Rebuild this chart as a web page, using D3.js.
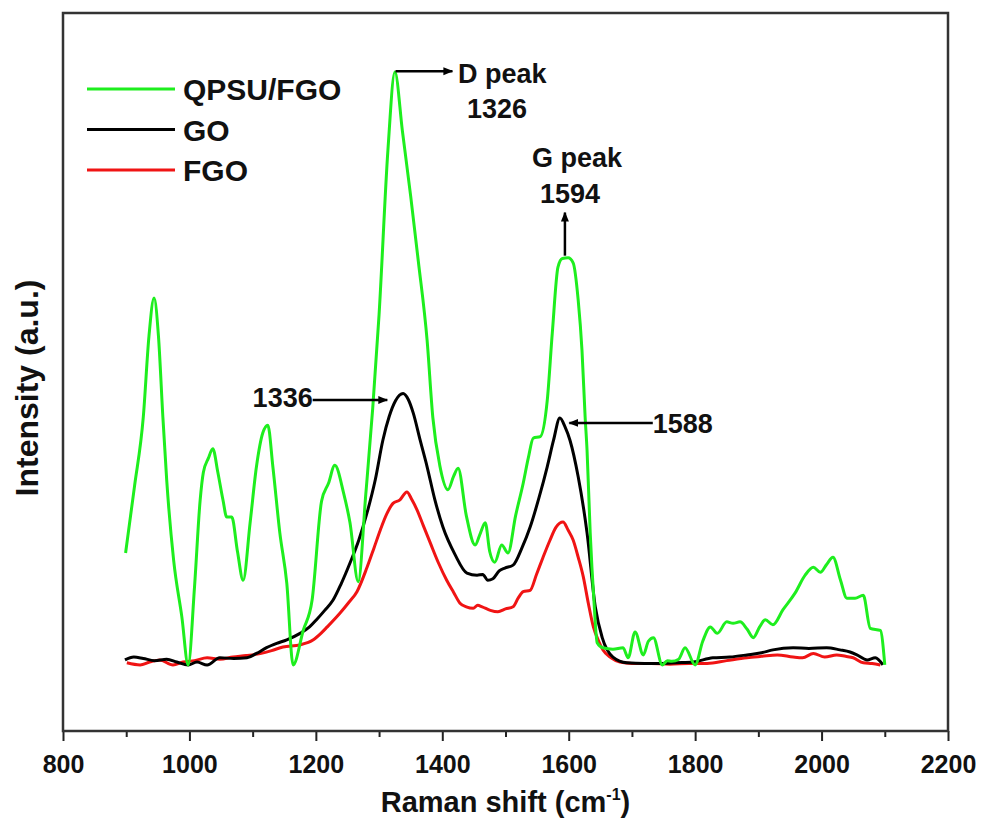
<!DOCTYPE html>
<html>
<head>
<meta charset="UTF-8">
<title>Raman spectra</title>
<script src="https://cdn.jsdelivr.net/npm/d3@7"></script>
<style>
  body { margin: 0; background: #fff; }
  svg text { font-family: Arial, 'Liberation Sans', Helvetica, sans-serif; font-weight: bold; fill: #111; }
</style>
</head>
<body>
<div id="chart"></div>
<script>
// ---- data (Raman shift cm-1, intensity a.u.) ----
var qpsuFgo = [
  [899,24.8],[913,34],[927,43.7],[936,55],[944,60.3],[951,55],[958,43.7],[964,35],[975,23.8],[988,15.9],[998,9.2],
  [1008,20],[1017,32.2],[1022,36],[1030,38],[1037,39.3],[1045,36],[1053,32.2],[1059,29.8],[1067,29.8],[1076,25],[1085,21],
  [1096,29],[1106,36.8],[1116,41.5],[1124,42.6],[1132,36.8],[1143,27.6],[1154,20.6],[1164,9.2],
  [1180,14],[1194,18.2],[1209,32],[1220,34.5],[1230,37],[1244,33.1],[1254,29],[1267,20.8],
  [1279,33],[1290,45],[1300,58],[1314,80.9],[1325,91.8],[1337,83.5],[1350,74.5],
  [1362,65.5],[1376,54.4],[1385,43.7],[1396,37],[1409,33.6],[1418,35.5],[1425,36.6],[1438,30],[1452,25.9],[1460,27.5],[1468,29],
  [1475,25],[1483,23.5],[1494,25.9],[1504,24.8],[1516,30],[1528,34.5],[1536,38],[1544,40.8],[1555,41],[1566,46],
  [1574,55.4],[1583,64.6],[1590,65.8],[1599,65.9],[1607,65.2],[1615,60],[1621,53],[1626,43.7],[1629,39.1],[1634,27.6],
  [1640,18],[1645,12.3],[1654,11.6],[1670,11.4],[1686,11.6],[1694,10.2],[1705,13.8],[1718,10.6],[1726,12.5],[1734,13],
  [1748,9.2],[1756,9.8],[1763,9.7],[1774,10],[1784,11.6],[1800,9.2],[1812,12.5],[1824,14.5],[1835,13.6],[1850,15.2],
  [1860,15],[1871,15.2],[1882,14.2],[1892,13],[1902,14.5],[1911,15.5],[1923,14.8],[1939,16.9],[1958,19.2],[1974,21.7],
  [1987,22.8],[1998,22.1],[2008,23.2],[2018,24.2],[2030,21],[2040,18.5],[2053,18.5],[2066,18.9],[2077,14.3],[2093,14],[2100,9.2]
];
var go = [
  [898,9.9],[912,10.3],[927,10.1],[945,9.8],[964,10],[980,9.6],[998,9.2],[1012,9.6],[1028,9.2],[1048,10.2],[1070,10.1],
  [1091,10.2],[1106,10.8],[1122,11.6],[1138,12.2],[1154,12.7],[1175,13.6],[1190,14.5],[1201,15.5],[1214,16.8],[1227,18.2],
  [1240,20.5],[1254,23.4],[1268,26.6],[1281,30.4],[1294,35],[1306,40.5],[1316,43.8],[1326,46],[1338,47],[1346,46.2],
  [1354,44.3],[1365,40.5],[1376,36.8],[1388,32.3],[1401,28.4],[1420,24.6],[1439,22],[1455,21.7],[1464,21.8],[1472,21],
  [1480,21.2],[1490,22.3],[1499,22.7],[1512,23.1],[1526,25.5],[1539,28.4],[1553,32.5],[1566,36.8],[1576,40.5],[1586,43.6],
  [1594,42.4],[1602,40.5],[1615,35.4],[1629,27.6],[1642,17.3],[1653,13],[1670,10.3],[1692,9.5],[1720,9.4],[1744,9.4],
  [1770,9.5],[1797,9.6],[1828,10.2],[1855,10.3],[1882,10.6],[1905,10.9],[1923,11.3],[1955,11.6],[1980,11.5],[2008,11.6],
  [2029,11.3],[2045,11],[2056,10.6],[2072,9.9],[2085,10.2],[2097,9.2]
];
var fgo = [
  [901,9.5],[922,9.2],[937,9.6],[953,9.9],[974,9.2],[990,9.6],[1008,9.8],[1028,10.2],[1048,10],[1069,10.3],[1090,10.5],
  [1112,10.8],[1130,11.2],[1148,11.7],[1175,12],[1196,12.7],[1208,13.6],[1218,14.5],[1238,16.4],[1252,17.9],[1265,19.4],
  [1281,22.8],[1292,25.5],[1302,28],[1312,30.2],[1322,31.7],[1333,32.2],[1344,33.3],[1352,32.2],[1360,30.8],[1370,28.6],
  [1381,26.2],[1394,23.4],[1407,21],[1418,19.3],[1428,17.8],[1438,17.3],[1449,17.1],[1456,17.5],[1463,17.3],[1476,16.8],
  [1488,16.6],[1500,17],[1512,17.3],[1520,18.5],[1528,19.4],[1539,19.6],[1549,21.8],[1559,24.1],[1570,26.5],[1580,28.4],
  [1591,29.1],[1599,28],[1607,26.6],[1615,24.2],[1623,21.5],[1631,17.8],[1639,14.5],[1647,12.6],[1654,11.3],[1667,10.2],
  [1681,9.6],[1700,9.4],[1730,9.4],[1760,9.3],[1790,9.4],[1819,9.4],[1850,9.8],[1882,10.2],[1905,10.4],[1930,10.6],
  [1955,10.3],[1970,10.2],[1987,10.8],[2005,10.3],[2024,10.6],[2038,10.4],[2050,10.2],[2066,9.5],[2080,9.4],[2093,9.2]
];

var seriesNames = ["QPSU/FGO", "GO", "FGO"];
var seriesColors = ["#1eee1e", "#000000", "#f01414"];
var majorTicks = [800, 1000, 1200, 1400, 1600, 1800, 2000, 2200];
var minorTicks = [900, 1100, 1300, 1500, 1700, 1900, 2100];

// ---- layout ----
var W = 981, H = 823;
var margin = {top: 13, right: 33, bottom: 92, left: 63};
var iw = W - margin.left - margin.right;
var ih = H - margin.top - margin.bottom;

var svg = d3.select("#chart").append("svg")
  .attr("width", W).attr("height", H);
var g = svg.append("g").attr("transform", "translate(" + margin.left + "," + margin.top + ")");

var x = d3.scaleLinear().domain([800, 2200]).range([0, iw]);
var y = d3.scaleLinear().domain([0, 100]).range([ih, 0]);

// axes
var xMajor = g.append("g").attr("transform", "translate(0," + ih + ")")
  .call(d3.axisBottom(x).tickValues(majorTicks).tickSize(10).tickPadding(14).tickFormat(d3.format("d")));
var xMinor = g.append("g").attr("transform", "translate(0," + ih + ")")
  .call(d3.axisBottom(x).tickValues(minorTicks).tickSize(6).tickFormat(""));
[xMajor, xMinor].forEach(function(a) {
  a.select(".domain").remove();
  a.selectAll(".tick line").attr("stroke", "#222").attr("stroke-width", 2);
});
xMajor.selectAll(".tick text").style("font-size", "25px").attr("fill", "#111");

// frame
g.append("rect").attr("x", 0).attr("y", 0).attr("width", iw).attr("height", ih)
  .attr("fill", "none").attr("stroke", "#333").attr("stroke-width", 2.5);

// curves
var line = d3.line().x(function(d) { return x(d[0]); }).y(function(d) { return y(d[1]); })
  .curve(d3.curveMonotoneX);
var drawOrder = [[fgo, 2], [go, 1], [qpsuFgo, 0]];
drawOrder.forEach(function(s) {
  g.append("path").datum(s[0]).attr("d", line)
    .attr("fill", "none").attr("stroke", seriesColors[s[1]])
    .attr("stroke-width", 3).attr("stroke-linejoin", "round");
});

// legend
var legend = g.append("g");
seriesNames.forEach(function(name, i) {
  var ly = 76 + i * 40.5;
  legend.append("line").attr("x1", 24).attr("x2", 112).attr("y1", ly).attr("y2", ly)
    .attr("stroke", seriesColors[i]).attr("stroke-width", 3);
  legend.append("text").attr("x", 120).attr("y", ly + 11).style("font-size", "30px").text(name);
});

// arrow marker
svg.append("defs").append("marker").attr("id", "arr")
  .attr("viewBox", "0 0 10 10").attr("refX", 9).attr("refY", 5)
  .attr("markerWidth", 4).attr("markerHeight", 4).attr("orient", "auto")
  .append("path").attr("d", "M0,1 L10,5 L0,9 Z").attr("fill", "#000");

function arrow(x1, y1, x2, y2) {
  g.append("line").attr("x1", x(x1)).attr("y1", y(y1)).attr("x2", x(x2)).attr("y2", y(y2))
    .attr("stroke", "#000").attr("stroke-width", 2.5).attr("marker-end", "url(#arr)");
}
function label(t, xv, yv, anchor) {
  g.append("text").attr("x", x(xv)).attr("y", y(yv)).attr("text-anchor", anchor || "start")
    .style("font-size", "27px").text(t);
}

// annotations
arrow(1326, 91.9, 1416, 91.9);
label("D peak", 1425, 90.3);
label("1326", 1439, 85.4);
arrow(1594, 66.2, 1594, 72.2);
label("G peak", 1613, 78.6, "middle");
label("1594", 1602, 73.5, "middle");
arrow(1195, 46.1, 1313, 46.1);
label("1336", 1195, 45.1, "end");
arrow(1733, 42.9, 1601, 42.9);
label("1588", 1733, 41.5);

// axis titles
var xt = svg.append("text").attr("x", margin.left + iw / 2).attr("y", 812)
  .attr("text-anchor", "middle").style("font-size", "29px");
xt.append("tspan").text("Raman shift (cm");
xt.append("tspan").attr("dy", -12).style("font-size", "16px").text("-1");
xt.append("tspan").attr("dy", 12).text(")");

svg.append("text").attr("transform", "translate(38," + (margin.top + 375) + ") rotate(-90)")
  .attr("text-anchor", "middle").style("font-size", "32px").text("Intensity (a.u.)");
</script>
</body>
</html>
